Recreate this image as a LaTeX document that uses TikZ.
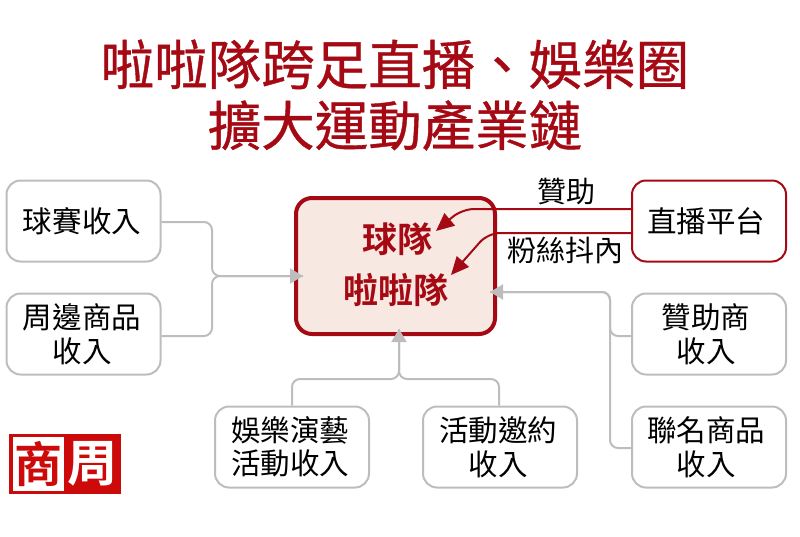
\documentclass[tikz,border=0pt]{standalone}
\usepackage{fontspec}
\usetikzlibrary{arrows.meta}
\setmainfont{Noto Sans CJK TC}
\newfontfamily\cjkmed[FakeBold=0.7]{Noto Sans CJK TC}
\newfontfamily\cjkbold{Noto Sans CJK TC Bold}
\definecolor{brandred}{HTML}{A50A14}
\definecolor{linegray}{HTML}{BDBDBD}
\definecolor{softred}{HTML}{F7E8E2}
\definecolor{logored}{HTML}{CC0A0A}
\newcommand{\nudge}[2]{\hspace*{#1pt}#2}
\tikzset{
  x=1pt,y=-1pt,
  box/.style={draw=linegray,line width=2pt,rounded corners=14pt,fill=white,minimum width=154pt,minimum height=81pt,inner sep=0pt,align=center,font=\fontsize{29.5}{33.5}\selectfont,text=black},
  livebox/.style={box,draw=brandred},
  hub/.style={draw=brandred,line width=4pt,rounded corners=16pt,fill=softred,minimum width=199pt,minimum height=136pt,inner sep=0pt},
  hubtext/.style={font=\cjkbold\fontsize{35}{40}\selectfont,text=brandred,inner sep=0pt},
  title/.style={font=\cjkmed\fontsize{53.5}{61}\selectfont,text=brandred,align=center,inner sep=0pt},
  lab/.style={font=\fontsize{29}{33}\selectfont,text=black,inner sep=0pt},
  conn/.style={draw=linegray,line width=2pt,rounded corners=8pt},
  tipped/.style={conn,-{Triangle[length=13pt,width=15pt]}},
  redconn/.style={draw=brandred,line width=2pt,rounded corners=12pt,-{Triangle[length=18pt,width=16pt]}},
}
\begin{document}
\begin{tikzpicture}
\useasboundingbox (0,0) rectangle (800,536);
\node[title] (ttl) at (395,95) {啦啦隊跨足直播、娛樂圈\\擴大運動產業鏈};
\node[hub] (hub) at (395.5,266) {};
\node[hubtext] (team) at (397,239) {球隊};
\node[hubtext] (cheer) at (396,290) {啦啦隊};
\node[box] (game) at (83.5,221) {\nudge{-3}{球賽收入}};
\node[box] (merch) at (83.5,334) {\nudge{-3}{周邊商品}\\\nudge{-3}{收入}};
\node[livebox] (live) at (709,221) {\nudge{-6}{直播平台}};
\node[box] (spons) at (709,334) {\nudge{-6}{贊助商}\\\nudge{-6}{收入}};
\node[box] (coll) at (709,447) {\nudge{-6}{聯名商品}\\\nudge{-6}{收入}};
\node[box] (ent) at (292,447) {\nudge{-4}{娛樂演藝}\\\nudge{-4}{活動收入}};
\node[box] (event) at (500,447) {\nudge{-4}{活動邀約}\\\nudge{-4}{收入}};
\node[lab] (lzan) at (566,192) {贊助};
\node[lab] (lfan) at (565.5,250) {粉絲抖內};
% connector ends
\coordinate (hl) at (303,276);
\coordinate (hr) at (490,292);
\coordinate (hb) at (399,329);
\coordinate (tipa) at (436,231);
\coordinate (tipb) at (451,275);
\coordinate (lia) at (632,209);
\coordinate (lib) at (632,233);
% grey connectors
\draw[conn] ([yshift=-1pt]game.east) -- (212,222) -- (212,276) -- (hl);
\draw[tipped] ([yshift=-2pt]merch.east) -- (212,336) -- (212,276) -- (hl);
\draw[conn] ([yshift=-2pt]spons.west) -- (610,336) -- (610,292) -- (hr);
\draw[tipped] ([yshift=-1pt]coll.west) -- (610,448) -- (610,292) -- (hr);
\draw[conn] (ent.north) -- (292,379) -- (399,379) -- (hb);
\draw[tipped] ([xshift=-1pt]event.north) -- (499,379) -- (399,379) -- (hb);
% red connectors
\draw[redconn] (lia) -- (462,209) -- (tipa);
\draw[redconn] (lib) -- (488,233) -- (tipb);
% logo
\node[fill=logored,minimum width=112pt,minimum height=60pt,inner sep=0pt] (logo) at (65,464) {};
\node[fill=white,minimum width=51pt,minimum height=54pt,inner sep=0pt,font=\cjkbold\fontsize{48}{48}\selectfont,text=logored] (logoa) at (38.5,464) {商};
\node[inner sep=0pt,font=\cjkbold\fontsize{50}{50}\selectfont,text=white] (logob) at (92.5,464) {周};
\end{tikzpicture}
\end{document}
